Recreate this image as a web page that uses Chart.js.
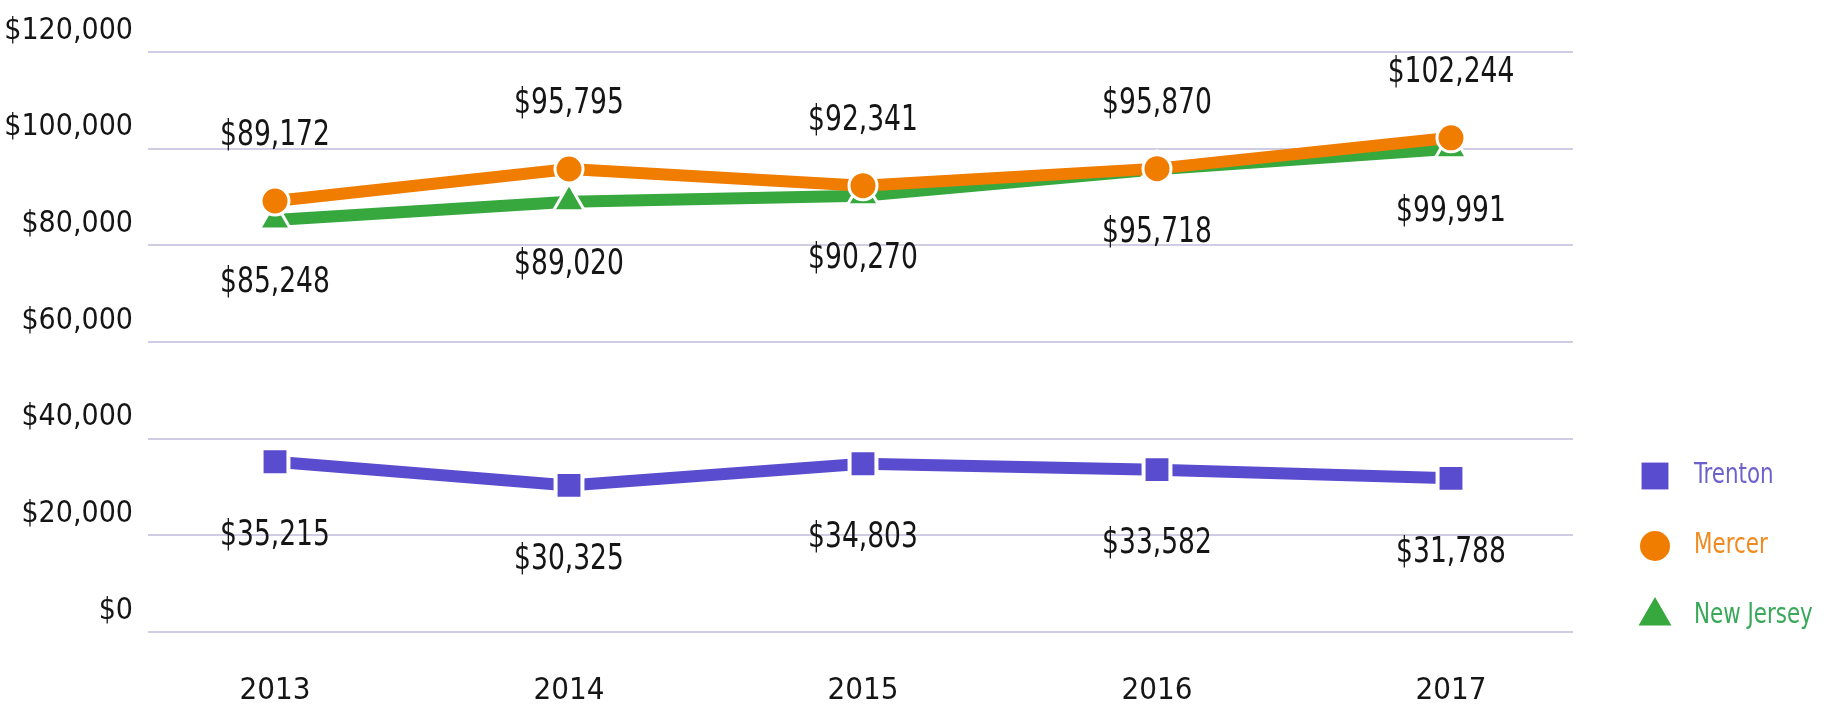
<!DOCTYPE html>
<html>
<head>
<meta charset="utf-8">
<script src="https://cdn.jsdelivr.net/npm/chart.js@4.4.1/dist/chart.umd.min.js"></script>
<style>
    html, body { margin: 0; padding: 0; background: #fff; }
    .chart-container { width: 1833px; height: 705px; position: relative; }
</style>
</head>
<body>
<div class="chart-container"><canvas id="incomeChart"></canvas></div>
<script>
// 数据
const years = [2013, 2014, 2015, 2016, 2017];
const yearLabels = ["2013", "2014", "2015", "2016", "2017"];
const seriesNames = ["Trenton", "Mercer", "New Jersey"];
const trentonValues = [35215, 30325, 34803, 33582, 31788];
const mercerValues = [89172, 95795, 92341, 95870, 102244];
const newJerseyValues = [85248, 89020, 90270, 95718, 99991];
const yTickValues = [0, 20000, 40000, 60000, 80000, 100000, 120000];

const FONT = "'DejaVu Sans Condensed', 'Liberation Sans Narrow', sans-serif";
const money = v => "$" + v.toLocaleString("en-US");
const toPoints = values => values.map((v, i) => ({ x: years[i], y: v }));

// 数值标签（横向压缩，模仿窄体字）
const valueLabels = {
    id: "valueLabels",
    afterDatasetsDraw(chart, args, opts) {
        const ctx = chart.ctx;
        ctx.save();
        ctx.font = `36px ${FONT}`;
        ctx.fillStyle = "#151515";
        ctx.textAlign = "center";
        ctx.textBaseline = "middle";
        chart.data.datasets.forEach((ds, di) => {
            const meta = chart.getDatasetMeta(di);
            meta.data.forEach((pt, i) => {
                ctx.save();
                ctx.translate(pt.x, pt.y + opts.offsets[di]);
                ctx.scale(opts.squeeze, 1);
                ctx.fillText(money(ds.data[i].y), 0, 0);
                ctx.restore();
            });
        });
        ctx.restore();
    }
};

// 右侧图例
const sideLegend = {
    id: "sideLegend",
    afterDraw(chart, args, opts) {
        const ctx = chart.ctx;
        ctx.save();
        chart.data.datasets.forEach((ds, di) => {
            const y = opts.top + di * opts.gap;
            ctx.fillStyle = ds.borderColor;
            ctx.strokeStyle = ds.borderColor;
            Chart.helpers.drawPoint(ctx, {
                pointStyle: ds.pointStyle,
                radius: opts.radius[di],
                rotation: 0,
                borderWidth: 0
            }, opts.markerX, y);
            ctx.font = `28px ${FONT}`;
            ctx.textAlign = "left";
            ctx.textBaseline = "middle";
            ctx.fillStyle = opts.textColors[di];
            ctx.save();
            ctx.translate(opts.textX, y);
            ctx.scale(0.85, 1);
            ctx.fillText(ds.label, 0, 0);
            ctx.restore();
        });
        ctx.restore();
    }
};

const ctx = document.getElementById("incomeChart").getContext("2d");
new Chart(ctx, {
    type: "line",
    data: {
        datasets: [
            {
                label: seriesNames[0],
                data: toPoints(trentonValues),
                borderColor: "#5a4ccf",
                backgroundColor: "#5a4ccf",
                borderWidth: 12,
                pointStyle: "rect",
                pointRadius: 19,
                pointBorderColor: "#fff",
                pointBorderWidth: 4
            },
            {
                label: seriesNames[1],
                data: toPoints(mercerValues),
                borderColor: "#f07c00",
                backgroundColor: "#f07c00",
                borderWidth: 12,
                pointStyle: "circle",
                pointRadius: 14,
                pointBorderColor: "#fff",
                pointBorderWidth: 3
            },
            {
                label: seriesNames[2],
                data: toPoints(newJerseyValues),
                borderColor: "#36a83e",
                backgroundColor: "#36a83e",
                borderWidth: 12,
                pointStyle: "triangle",
                pointRadius: 18,
                pointBorderColor: "#fff",
                pointBorderWidth: 3
            }
        ]
    },
    options: {
        responsive: true,
        maintainAspectRatio: false,
        animation: false,
        layout: { padding: { top: 52, right: 260, left: 0, bottom: 0 } },
        plugins: {
            legend: { display: false },
            tooltip: { enabled: false },
            valueLabels: { offsets: [74, -65, 63], squeeze: 0.82 },
            sideLegend: {
                top: 476, gap: 70, markerX: 1655, textX: 1694,
                radius: [19, 15, 19],
                textColors: ["#6c62cc", "#f08a1e", "#3aa85a"]
            }
        },
        elements: { line: { tension: 0 } },
        scales: {
            x: {
                type: "linear",
                min: 2012.568,
                max: 2017.415,
                afterFit: s => { s.height = 73; },
                afterBuildTicks: s => { s.ticks = years.map(v => ({ value: v })); },
                grid: { display: false },
                border: { display: false },
                ticks: {
                    color: "#151515",
                    font: { family: FONT, size: 31 },
                    padding: 32,
                    callback: v => yearLabels[years.indexOf(v)]
                }
            },
            y: {
                min: 0,
                max: 120000,
                afterFit: s => { s.width = 148; },
                afterBuildTicks: s => { s.ticks = yTickValues.map(v => ({ value: v })); },
                grid: { color: "#cfcde3", lineWidth: 2, drawTicks: false },
                border: { display: false },
                ticks: {
                    color: "#151515",
                    font: { family: FONT, size: 30 },
                    padding: 15,
                    labelOffset: -21,
                    callback: v => money(v)
                }
            }
        }
    },
    plugins: [valueLabels, sideLegend]
});
</script>
</body>
</html>
